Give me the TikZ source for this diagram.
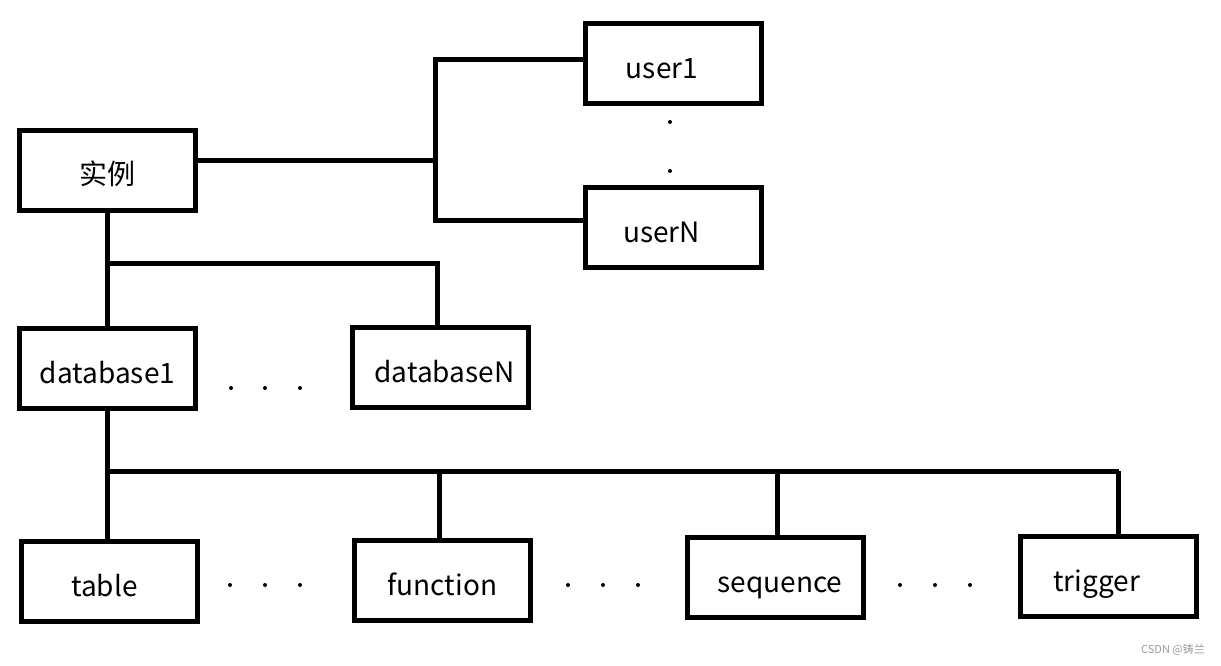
\documentclass[tikz,border=0pt]{standalone}
\usepackage{fontspec}
\newfontfamily\cjk{Noto Sans CJK SC}

\begin{document}
\begin{tikzpicture}
          [x=1pt,y=-1pt,line width=5pt,
           box/.style={draw,line width=5pt,rectangle,minimum width=176pt,minimum height=80pt,inner sep=0pt,
                       text height=29pt,text depth=0pt,font=\cjk\fontsize{28}{32}\selectfont},
           dot/.style={fill,circle,inner sep=0pt,minimum size=4pt}]

          \useasboundingbox (0,0) rectangle (1221,666);

          \node[box] (inst) at (107.5,170.5) {实例};
          \node[box] (user1) at (673,64) {user1\kern22pt};
          \node[box] (userN) at (673.5,227.5) {userN\kern24pt};
          \node[box] (db1) at (107.5,368.5) {database1};
          \node[box] (dbN) at (440.5,367.5) {\kern8pt databaseN};
          \node[box] (table) at (109.5,581.5) {table\kern10pt};
          \node[box] (function) at (442.5,580.5) {function};
          \node[box] (sequence) at (775,577.5) {\kern10pt sequence};
          \node[box] (trigger) at (1108.5,576.5) {trigger\kern24pt};

          \coordinate (jU) at (435,161);
          \coordinate (u1) at (435,60);
          \coordinate (uN) at (435,220);
          \coordinate (jD) at (437,263);
          \coordinate (jT) at (1119,471);

          \draw (jU -| inst.east) -- (jU);
          \draw (u1 -| user1.west) -- (u1) -- (uN) -- (uN -| userN.west);
          \draw (inst.south) -- (db1.north);
          \draw (inst.south |- jD) -- (jD) -- (jD |- dbN.north);
          \draw (db1.south) -- (db1.south |- table.north);
          \draw (db1.south |- jT) -- (jT);
          \foreach \n/\x in {function/439,sequence/777,trigger/1118}
            \draw (\x,471) -- (\x,0 |- \n.north);

          % dots
          \node[dot] (d1) at (670,122) {};
          \node[dot] (d2) at (670,171) {};
          \foreach \x in {231,265,300}
            \node[dot] at (\x,388) {};
          \foreach \x in {230,265,300,568,603,638,900,935,970}
            \node[dot] at (\x,585) {};

          \node[text=black!40,font=\cjk\fontsize{11}{13}\selectfont] (mark) at (1173,650) {CSDN @铸兰};
        \end{tikzpicture}
\end{document}
